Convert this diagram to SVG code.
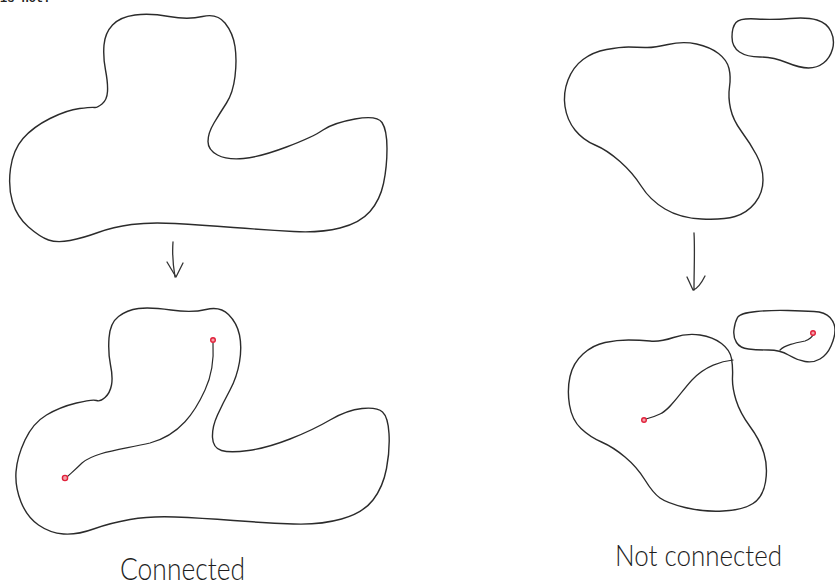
<svg xmlns="http://www.w3.org/2000/svg" width="835" height="587" viewBox="0 0 835 587">
<style>
.outline{fill:none;stroke:#2b2b2b;stroke-width:1.4;stroke-linejoin:round;stroke-linecap:round}
.path{fill:none;stroke:#2b2b2b;stroke-width:1.2;stroke-linecap:round}
.dot{fill:#f4a0a8;stroke:#e0203a;stroke-width:1.4}
.arrow{fill:none;stroke:#333;stroke-width:1.3;stroke-linecap:round;stroke-linejoin:round}
.label{font-family:"Lato","Liberation Sans",sans-serif;font-weight:300;fill:#1e1e1e}
</style>
<rect width="835" height="587" fill="#fff"/>
<text x="0" y="2" font-family="Liberation Mono, monospace" font-weight="bold" font-size="12" fill="#222">is not.</text>

<g id="connected-before">
<path class="outline" d="M 112.5,25 Q 120,17 135,15 Q 150,13 169,16.5 Q 188,20 202.5,16.5 Q 217,13 225,23 Q 233,33 235,46.5 Q 237,60 235,76.5 Q 233,93 226.5,103 Q 220,113 214,123 Q 208,133 208,141.5 Q 208,150 217.5,155 Q 227,160 243.5,158.5 Q 260,157 286.5,147 Q 313,137 323,130 Q 333,123 355,119 Q 377,115 382,122.5 Q 387,130 387,148.5 Q 387,167 383.5,183.5 Q 380,200 370,211.5 Q 360,223 340,228 Q 320,233 293.5,231.5 Q 267,230 233.5,227.5 Q 200,225 175,223.5 Q 150,222 131.5,224.5 Q 113,227 98,232.5 Q 83,238 70,240.5 Q 57,243 48.5,240 Q 40,237 28.5,227 Q 17,217 12.5,202 Q 8,187 10.5,168.5 Q 13,150 23,138.5 Q 33,127 50,118.5 Q 67,110 79.5,108.5 Q 92,107 94.5,107.5 Q 97,108 102,104 Q 107,100 107.5,91.5 Q 108,83 105.5,70 Q 103,57 104,45 Q 105,33 112.5,25 Z"/>
</g>

<g id="connected-after">
<path class="outline" d="M 118.5,316.5 Q 127,310 138.5,308.5 Q 150,307 171,310 Q 192,313 206,309.5 Q 220,306 228.5,314.5 Q 237,323 239.5,335 Q 242,347 239.5,362 Q 237,377 230,390 Q 223,403 217.5,415 Q 212,427 212.5,437.5 Q 213,448 221.5,450.5 Q 230,453 248.5,450.5 Q 267,448 290,439 Q 313,430 330,420 Q 347,410 362,408.5 Q 377,407 382.5,412 Q 388,417 389,433.5 Q 390,450 386.5,468.5 Q 383,487 373,500 Q 363,513 341.5,519 Q 320,525 293.5,524 Q 267,523 233.5,520.5 Q 200,518 175,517 Q 150,516 130,519.5 Q 110,523 93.5,529 Q 77,535 63.5,534 Q 50,533 38.5,525 Q 27,517 21,502 Q 15,487 16,472 Q 17,457 25,440 Q 33,423 46.5,415 Q 60,407 76.5,403 Q 93,399 96.5,400.5 Q 100,402 105,397.5 Q 110,393 111.5,385 Q 113,377 110.5,365 Q 108,353 109,338 Q 110,323 118.5,316.5 Z"/>
<path class="path" d="M 213,343 C 214,360 212,375 205,390 C 195,412 180,435 150,443 C 120,450 95,452 82,463 C 75,470 70,474 67,477"/>
<circle class="dot" cx="213" cy="340" r="2.3"/>
<circle class="dot" cx="65" cy="478" r="2.6"/>
</g>

<g id="not-connected-before">
<path class="outline" d="M 645,47.5 Q 653,48 668,44.5 Q 683,41 696.5,44 Q 710,47 718.5,53.5 Q 727,60 729,68.5 Q 731,77 729.5,87 Q 728,97 730.5,108.5 Q 733,120 741.5,131.5 Q 750,143 756.5,155 Q 763,167 763,180 Q 763,193 755,203 Q 747,213 735,216.5 Q 723,220 701.5,219 Q 680,218 665,209 Q 650,200 641.5,186.5 Q 633,173 620,161.5 Q 607,150 595,145 Q 583,140 575,130 Q 567,120 565,106.5 Q 563,93 568,80 Q 573,67 583,59.5 Q 593,52 606.5,49.5 Q 620,47 628.5,47 Q 637,47 645,47.5 Z"/>
<path class="outline" d="M 756.5,19 Q 773,20 790,18.5 Q 807,17 817,20 Q 827,23 831,31.5 Q 835,40 832.5,49 Q 830,58 823.5,63 Q 817,68 808.5,68 Q 800,68 786.5,62.5 Q 773,57 760,57 Q 747,57 739.5,52 Q 732,47 732,37 Q 732,27 736,22.5 Q 740,18 756.5,19 Z"/>
</g>

<g id="not-connected-after">
<path class="outline" d="M 650,341 Q 660,342 673.5,337.5 Q 687,333 700,335 Q 713,337 721.5,343.5 Q 730,350 731.5,358.5 Q 733,367 732.5,377 Q 732,387 736,400 Q 740,413 750,426.5 Q 760,440 764,453.5 Q 768,467 765.5,482 Q 763,497 753,503.5 Q 743,510 723,511 Q 703,512 685,507.5 Q 667,503 660,498 Q 653,493 645,480 Q 637,467 625,457 Q 613,447 601.5,442 Q 590,437 581,428.5 Q 572,420 569.5,405 Q 567,390 570,376.5 Q 573,363 583,354 Q 593,345 605,342.5 Q 617,340 628.5,340 Q 640,340 650,341 Z"/>
<path class="outline" d="M 756.5,311.5 Q 773,310 788,310.5 Q 803,311 814,311.5 Q 825,312 830,317.5 Q 835,323 835,330 Q 835,337 831,346 Q 827,355 820,359 Q 813,363 805,361.5 Q 797,360 788.5,355 Q 780,350 768.5,350 Q 757,350 748.5,349 Q 740,348 736.5,342.5 Q 733,337 734,329.5 Q 735,322 737.5,317.5 Q 740,313 756.5,311.5 Z"/>
<path class="path" d="M 733,360 C 722,361 705,366 692,380 C 680,393 670,410 660,414 C 654,417 650,418 646,419"/>
<path class="path" d="M 780,350 C 785,345 795,343 805,341 C 810,339 812,337 813,335"/>
<circle class="dot" cx="644" cy="420" r="2.3"/>
<circle class="dot" cx="813" cy="333" r="2.3"/>
</g>

<g id="connectors">
<path class="arrow" d="M 173,242 C 172,255 173,265 175,277"/>
<path class="arrow" d="M 167,262 L 176,277 L 183,263"/>
<path class="arrow" d="M 694,233 C 695,250 694,270 694,290"/>
<path class="arrow" d="M 687,277 L 693,290 C 697,289 701,284 705,276"/>
</g>

<g id="labels">
<text class="label" x="120" y="580" font-size="31" textLength="125" lengthAdjust="spacingAndGlyphs">Connected</text>
<text class="label" x="615" y="566" font-size="30" textLength="167" lengthAdjust="spacingAndGlyphs">Not connected</text>
</g>
</svg>
